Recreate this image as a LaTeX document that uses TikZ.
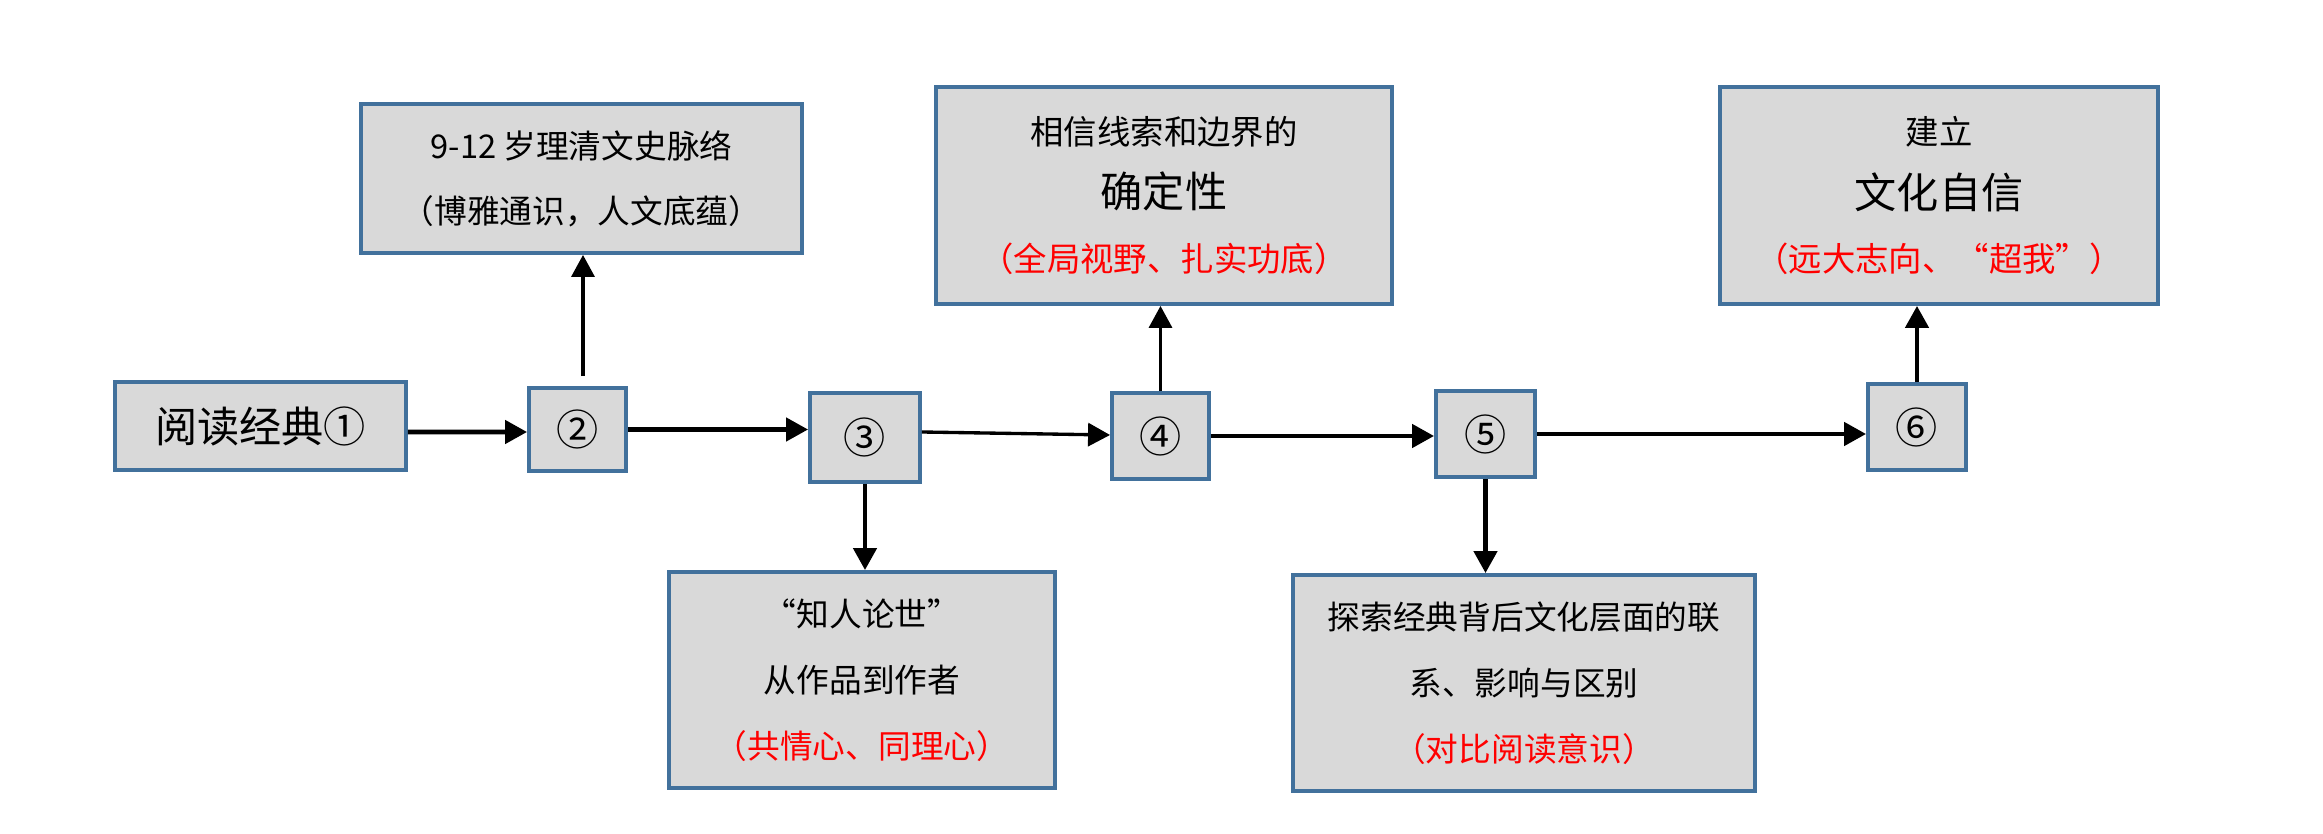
\documentclass[tikz,border=0pt]{standalone}
\usepackage{fontspec}
\setmainfont{Noto Sans CJK SC}
\usetikzlibrary{arrows.meta}
\definecolor{boxblue}{RGB}{66,113,156}
\definecolor{boxgray}{RGB}{217,217,217}
\begin{document}
\begin{tikzpicture}[
                box/.style={draw=boxblue, line width=1.1pt, fill=boxgray, inner sep=0, align=center},
                num/.style={box, font=\fontsize{12pt}{14pt}\selectfont},
                flow/.style={-{Triangle[length=2.2mm,width=2.3mm]}, line width=1.3pt},
                thinflow/.style={flow, line width=0.95pt}]
            \useasboundingbox (0,0) rectangle (23.23,8.34);
            \node[box, minimum width=2.91cm, minimum height=0.88cm,
                  font=\fontsize{12pt}{14pt}\selectfont] (n1) at (2.605,4.08) {阅读经典①};
            \node[num, minimum width=0.97cm, minimum height=0.83cm] (n2) at (5.775,4.045) {②};
            \node[num, minimum width=1.10cm, minimum height=0.89cm] (n3) at (8.65,3.965) {③};
            \node[num, minimum width=0.97cm, minimum height=0.86cm] (n4) at (11.605,3.98) {④};
            \node[num, minimum width=0.99cm, minimum height=0.86cm] (n5) at (14.855,4.00) {⑤};
            \node[num, minimum width=0.98cm, minimum height=0.86cm] (n6) at (19.17,4.07) {⑥};

            \node[box, minimum width=4.41cm, minimum height=1.49cm,
                  font=\fontsize{9.3pt}{18.4pt}\selectfont] (t2) at (5.815,6.555)
                {9-12 岁理清文史脉络\\（博雅通识，人文底蕴）};
            \node[box, minimum width=3.86cm, minimum height=2.16cm,
                  font=\fontsize{9.3pt}{18.8pt}\selectfont] (b3) at (8.62,1.54)
                {“知人论世”\\从作品到作者\\\textcolor{red}{（共情心、同理心）}};
            \node[box, minimum width=4.56cm, minimum height=2.17cm,
                  font=\fontsize{9.5pt}{18.2pt}\selectfont] (t4) at (11.64,6.385)
                {相信线索和边界的\\{\fontsize{12pt}{18.2pt}\selectfont 确定性}\\\textcolor{red}{（全局视野、扎实功底）}};
            \node[box, minimum width=4.62cm, minimum height=2.16cm,
                  font=\fontsize{9.3pt}{18.8pt}\selectfont] (b5) at (15.24,1.51)
                {探索经典背后文化层面的联\\系、影响与区别\\\textcolor{red}{（对比阅读意识）}};
            \node[box, minimum width=4.38cm, minimum height=2.17cm,
                  font=\fontsize{9.5pt}{18.2pt}\selectfont] (t6) at (19.39,6.385)
                {建立\\{\fontsize{12pt}{18.2pt}\selectfont 文化自信}\\\textcolor{red}{（远大志向、“超我”）}};

            \draw[flow] ([yshift=-0.06cm]n1.east) -- ([yshift=-0.025cm]n2.west);
            \draw[thinflow, shorten <=0.1cm] ([xshift=0.055cm]n2.north) -- ([xshift=0.055cm]n2.north |- t2.south);
            \draw[flow] (n2.east) -- (n2.east -| n3.west);
            \draw[thinflow] ([yshift=0.055cm]n3.east) -- ([yshift=0.01cm]n4.west);
            \draw[flow] (n3.south) -- (n3.south |- b3.north);
            \draw[thinflow] (n4.north) -- (n4.north |- t4.south);
            \draw[flow] (n4.east) -- (n4.east -| n5.west);
            \draw[flow] (n5.south) -- (n5.south |- b5.north);
            \draw[flow] (n5.east) -- (n5.east -| n6.west);
            \draw[flow] (n6.north) -- (n6.north |- t6.south);
        \end{tikzpicture}
\end{document}
